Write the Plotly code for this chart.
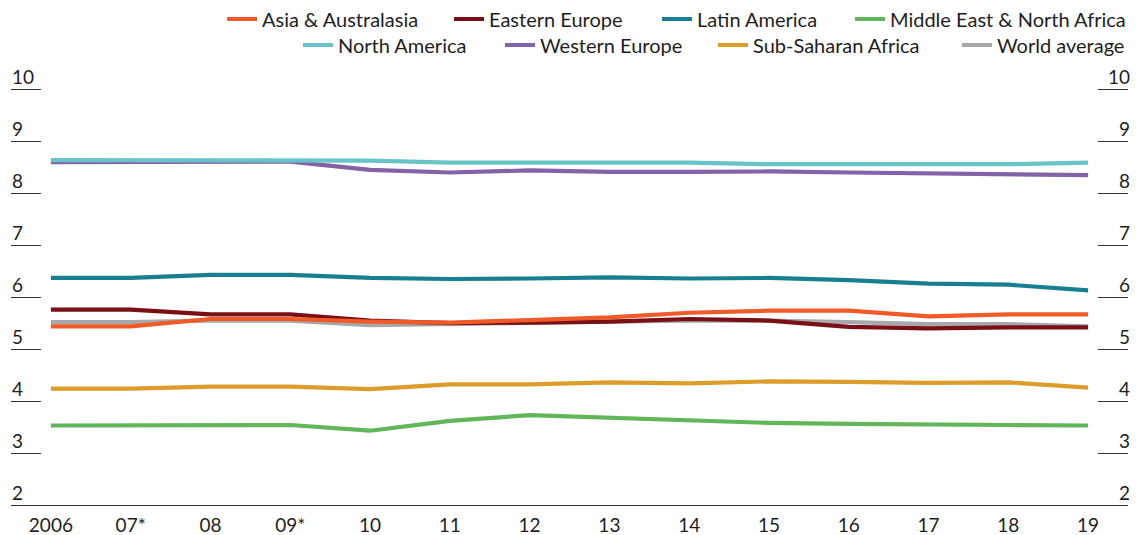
import plotly.graph_objects as go

years = ["2006", "07*", "08", "09*", "10", "11", "12", "13", "14", "15", "16", "17", "18", "19"]

asia = [5.44, 5.44, 5.58, 5.58, 5.53, 5.51, 5.56, 5.61, 5.70, 5.74, 5.74, 5.63, 5.67, 5.67]
eastern_europe = [5.76, 5.76, 5.67, 5.67, 5.55, 5.50, 5.51, 5.53, 5.58, 5.55, 5.43, 5.40, 5.42, 5.42]
latin_america = [6.37, 6.37, 6.43, 6.43, 6.37, 6.35, 6.36, 6.38, 6.36, 6.37, 6.33, 6.26, 6.24, 6.13]
mena = [3.53, 3.53, 3.54, 3.54, 3.43, 3.62, 3.73, 3.68, 3.65, 3.58, 3.56, 3.54, 3.54, 3.53]
north_america = [8.64, 8.64, 8.64, 8.64, 8.63, 8.59, 8.59, 8.59, 8.59, 8.56, 8.56, 8.56, 8.56, 8.59]
western_europe = [8.60, 8.60, 8.61, 8.61, 8.45, 8.40, 8.44, 8.41, 8.41, 8.42, 8.40, 8.38, 8.35, 8.35]
sub_saharan = [4.24, 4.24, 4.28, 4.28, 4.23, 4.32, 4.32, 4.36, 4.34, 4.38, 4.37, 4.35, 4.36, 4.26]
world = [5.52, 5.52, 5.55, 5.55, 5.46, 5.49, 5.52, 5.53, 5.55, 5.55, 5.52, 5.48, 5.48, 5.44]

y_ticks = [2, 3, 4, 5, 6, 7, 8, 9, 10]

# legend entry placement (left pixel of the legend text in the page, row)
legend_pos = {
    "Asia & Australasia": (262, 0),
    "Eastern Europe": (489, 0),
    "Latin America": (697, 0),
    "Middle East & North Africa": (890, 0),
    "North America": (338, 1),
    "Western Europe": (540, 1),
    "Sub-Saharan Africa": (753, 1),
    "World average": (997, 1),
}

# (name, values, colour) in drawing order
series = [
    ("World average", world, "#a7a8ab"),
    ("Western Europe", western_europe, "#8462a8"),
    ("North America", north_america, "#69c4c9"),
    ("Eastern Europe", eastern_europe, "#7a1015"),
    ("Asia & Australasia", asia, "#f05a28"),
    ("Latin America", latin_america, "#187f90"),
    ("Sub-Saharan Africa", sub_saharan, "#dc9d2b"),
    ("Middle East & North Africa", mena, "#62b65a"),
]

FONT = "Lato"
TXT = "#1e1e1e"
PAGE_W, PAGE_H = 1144, 535
BODY = 8  # default page body margin around the plot div
W, H = PAGE_W - BODY, PAGE_H - BODY
row_y = [20, 46]

fig = go.Figure()
layout_legends = {}
for i, (name, vals, col) in enumerate(series):
    key = "legend" if i == 0 else f"legend{i + 1}"
    fig.add_trace(go.Scatter(
        x=years, y=vals, name=name, mode="lines",
        line=dict(color=col, width=4.2),
        legend=key, hoverinfo="skip",
    ))
    tx, row = legend_pos[name]
    layout_legends[key] = dict(
        orientation="h", xref="container", yref="container",
        x=(tx - BODY - 40) / W, xanchor="left",
        y=1 - (row_y[row] - BODY - 1) / H, yanchor="middle",
        font=dict(family=FONT, size=20, color=TXT), bgcolor="rgba(0,0,0,0)",
        borderwidth=0, itemwidth=30,
    )
# invisible trace to activate the right axis
fig.add_trace(go.Scatter(x=years, y=world, yaxis="y2", mode="lines",
                         line=dict(width=0), showlegend=False, hoverinfo="skip"))

yax_common = dict(
    range=[2, 10.7], tickvals=y_ticks, ticks="inside", ticklen=30, tickwidth=1,
    tickcolor="#333333", showgrid=False, zeroline=False, showline=False,
    ticklabelposition="inside top", ticklabelshift=2,
    tickfont=dict(family=FONT, size=19, color=TXT),
    fixedrange=True,
)

fig.update_layout(
    width=W, height=H,
    margin=dict(l=3, r=16, t=45, b=30, autoexpand=False),
    paper_bgcolor="white", plot_bgcolor="white",
    font=dict(family=FONT, size=19, color=TXT),
    xaxis=dict(
        type="category", range=[-0.5, 13.5], showgrid=False, zeroline=False,
        showline=True, linecolor="#333333", linewidth=1, ticks="",
        tickfont=dict(family=FONT, size=19, color=TXT), ticklabelstandoff=3,
    ),
    yaxis=dict(side="left", ticklabelstandoff=-2, **yax_common),
    yaxis2=dict(side="right", overlaying="y", ticklabelstandoff=-5, **yax_common),
    showlegend=True,
    **layout_legends,
)

fig.write_html("out.html")
